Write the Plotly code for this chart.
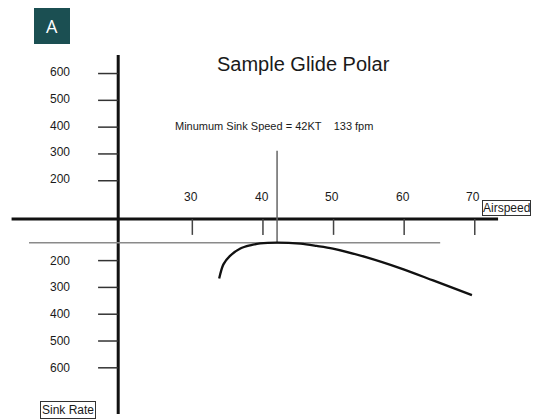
import plotly.graph_objects as go

# ---- data -------------------------------------------------------------
# glide polar: airspeed (knots) vs sink rate (feet per minute, positive = down)
airspeed_kt = [33.8, 34.4, 35.3, 36.8, 38.2, 39.6, 42.0, 45.3, 47.6, 49.9, 54.7, 59.4, 64.1, 69.6]
sink_fpm = [267, 214, 183, 155, 143, 136, 133, 137, 145, 155, 188, 228, 274, 329]

min_sink_speed_kt = 42
min_sink_fpm = 133

speed_ticks = [30, 40, 50, 60, 70]
sink_ticks = [200, 300, 400, 500, 600]

# ---- diagram geometry (in axis units) ----------------------------------
X_RANGE = [2.76, 78.53]          # knots across the page
Y_RANGE = [791.0, -772.4]        # fpm, increasing downwards
V_AXIS_KT = 19.5                 # where the sink-rate axis crosses
H_AXIS_FPM = 45                  # where the airspeed axis crosses
MIRROR = 102                     # upper scale is reflected about this level

BLACK = "#111111"
FONT = "Arial, Liberation Sans, sans-serif"

fig = go.Figure()

# polar curve
fig.add_trace(go.Scatter(
    x=airspeed_kt, y=sink_fpm, mode="lines",
    line=dict(color=BLACK, width=2.3, shape="spline", smoothing=0.9),
    hoverinfo="skip", showlegend=False,
))

shapes = []

def seg(x0, y0, x1, y1, color, width):
    shapes.append(dict(type="line", xref="x", yref="y", x0=x0, y0=y0, x1=x1, y1=y1,
                       line=dict(color=color, width=width), layer="below"))

# main axes
seg(V_AXIS_KT, -567, V_AXIS_KT, 772, BLACK, 3)
seg(4.4, H_AXIS_FPM, 73.3, H_AXIS_FPM, BLACK, 3)

# minimum-sink tangent line and speed marker
seg(6.87, min_sink_fpm, 65.1, min_sink_fpm, "#8a8a8a", 1.5)
seg(min_sink_speed_kt, -210, min_sink_speed_kt, min_sink_fpm, "#666666", 1.5)

# airspeed ticks
for v in speed_ticks:
    seg(v, H_AXIS_FPM, v, 104, "#444444", 1.5)

# sink-rate ticks: lower scale and its mirrored copy above the airspeed axis
upper_pos = [MIRROR - v for v in sink_ticks]
for pos in upper_pos + sink_ticks:
    seg(16.65, pos, V_AXIS_KT, pos, "#333333", 1.5)

annotations = []

def label(x, y, text, size=12, xanchor="center", ref="y", **kw):
    annotations.append(dict(x=x, y=y, xref="x", yref=ref, text=text, showarrow=False,
                            xanchor=xanchor, yanchor="middle",
                            font=dict(family=FONT, size=size, color="#1a1a1a"), **kw))

for v in speed_ticks:
    label(v - 0.2, -39, str(v))
for v, pos in zip(sink_ticks, upper_pos):
    label(12.9, pos - 6, str(v), xanchor="right")
for v in sink_ticks:
    label(12.9, v, str(v), xanchor="right")

label(45.7, -533, "Sample Glide Polar", size=20)
label(41.6, -302,
      f"Minumum Sink Speed = {min_sink_speed_kt}KT\u00a0\u00a0\u00a0\u00a0{min_sink_fpm} fpm",
      size=11)

# boxed axis names
label(74.52, 4, "Airspeed", size=12,
      bordercolor="#333333", borderwidth=1, borderpad=0, bgcolor="white")
label(12.38, 757, "Sink Rate", size=12,
      bordercolor="#333333", borderwidth=1, borderpad=1, bgcolor="white")

# panel badge
shapes.append(dict(type="rect", xref="paper", yref="paper",
                   x0=34 / 535, x1=70 / 535, y0=1 - 44 / 419, y1=1 - 8 / 419,
                   fillcolor="#1b4f52", line=dict(width=0), layer="above"))
annotations.append(dict(x=52 / 535, y=1 - 26 / 419, xref="paper", yref="paper", text="A",
                        showarrow=False, xanchor="center", yanchor="middle",
                        font=dict(family="Open Sans, sans-serif", size=18, color="white")))

fig.update_layout(
    width=535, height=419, autosize=False,
    margin=dict(l=0, r=0, t=0, b=0, pad=0),
    paper_bgcolor="white", plot_bgcolor="white",
    xaxis=dict(range=X_RANGE, visible=False, fixedrange=True),
    yaxis=dict(range=Y_RANGE, visible=False, fixedrange=True),
    shapes=shapes, annotations=annotations,
    showlegend=False, hovermode=False,
)

fig.write_html("out.html", config={"displayModeBar": False, "staticPlot": True})
